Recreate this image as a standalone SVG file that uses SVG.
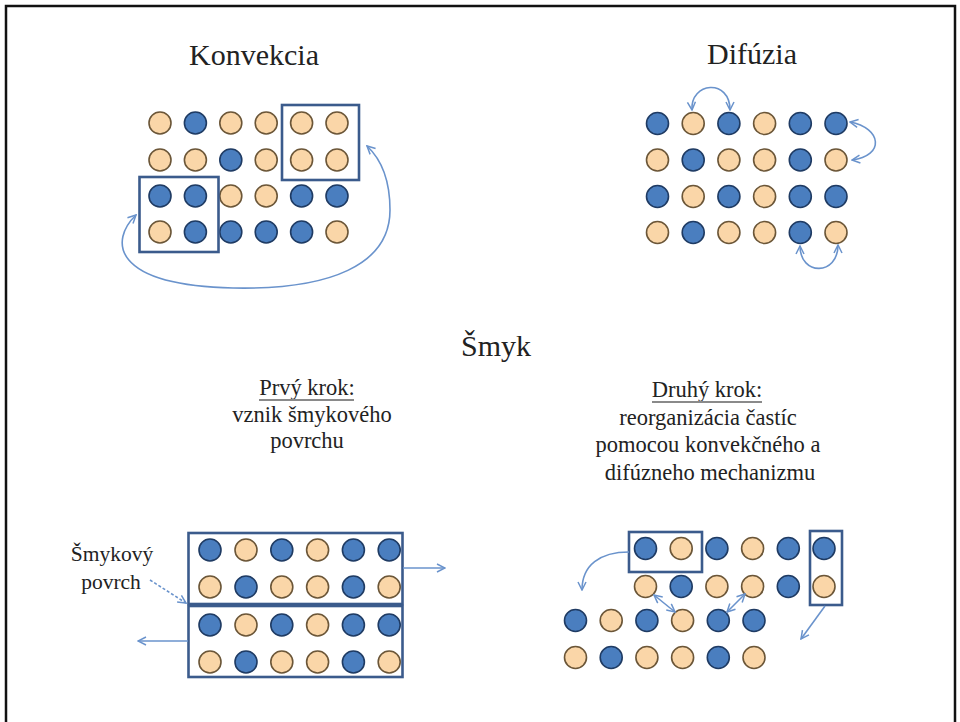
<svg xmlns="http://www.w3.org/2000/svg" width="960" height="722" viewBox="0 0 960 722">
<defs>
<style>
.b{fill:#4a7ebf;stroke:#1f3b63;stroke-width:1.6}
.p{fill:#fad6a8;stroke:#6b5638;stroke-width:1.6}
.box{fill:none;stroke:#3b5b8c;stroke-width:2.6}
.arr{fill:none;stroke:#6a93cc;stroke-width:1.6}
.t{font-family:"Liberation Serif","Times New Roman",serif;fill:#222;text-anchor:middle}
.h{font-size:30px}
.s{font-size:22.5px}
.ul{stroke:#8a8a8a;stroke-width:2}
</style>
<marker id="ah" viewBox="0 0 10 10" refX="9" refY="5" markerWidth="10" markerHeight="10" markerUnits="userSpaceOnUse" orient="auto-start-reverse">
<path d="M1,1 L9,5 L1,9" fill="none" stroke="#6a93cc" stroke-width="1.5"/>
</marker>
</defs>
<rect x="0" y="0" width="960" height="722" fill="#fff"/>
<path d="M6,722 V6 H955 V722" fill="none" stroke="#111" stroke-width="2.5"/>

<g id="titles">
<text class="t h" x="254" y="65">Konvekcia</text>
<text class="t h" x="752" y="64">Difúzia</text>
<text class="t h" x="496" y="356">Šmyk</text>
</g>

<g id="step1-label">
<text class="t s" x="307" y="395">Prvý krok:</text>
<line class="ul" x1="259" y1="400" x2="354" y2="400"/>
<text class="t s" x="312" y="422">vznik šmykového</text>
<text class="t s" x="307" y="448">povrchu</text>
</g>

<g id="step2-label">
<text class="t s" x="707" y="397">Druhý krok:</text>
<line class="ul" x1="652" y1="402" x2="762" y2="402"/>
<text class="t s" x="708" y="425">reorganizácia častíc</text>
<text class="t s" x="708" y="452">pomocou konvekčného a</text>
<text class="t s" x="710" y="480">difúzneho mechanizmu</text>
</g>

<g id="shear-label">
<text class="t" style="font-size:21.5px" x="112" y="561">Šmykový</text>
<text class="t" style="font-size:21.5px" x="111" y="589">povrch</text>
</g>

<g id="konvekcia-grid">
<circle class="p" cx="160" cy="123" r="11"/><circle class="b" cx="195.4" cy="123" r="11"/><circle class="p" cx="230.8" cy="123" r="11"/><circle class="p" cx="266.2" cy="123" r="11"/><circle class="p" cx="301.6" cy="123" r="11"/><circle class="p" cx="337" cy="123" r="11"/>
<circle class="p" cx="160" cy="160" r="11"/><circle class="p" cx="195.4" cy="160" r="11"/><circle class="b" cx="230.8" cy="160" r="11"/><circle class="p" cx="266.2" cy="160" r="11"/><circle class="p" cx="301.6" cy="160" r="11"/><circle class="p" cx="337" cy="160" r="11"/>
<circle class="b" cx="160" cy="196" r="11"/><circle class="b" cx="195.4" cy="196" r="11"/><circle class="p" cx="230.8" cy="196" r="11"/><circle class="p" cx="266.2" cy="196" r="11"/><circle class="b" cx="301.6" cy="196" r="11"/><circle class="b" cx="337" cy="196" r="11"/>
<circle class="p" cx="160" cy="232" r="11"/><circle class="b" cx="195.4" cy="232" r="11"/><circle class="b" cx="230.8" cy="232" r="11"/><circle class="b" cx="266.2" cy="232" r="11"/><circle class="b" cx="301.6" cy="232" r="11"/><circle class="p" cx="337" cy="232" r="11"/>
<rect class="box" x="282" y="105" width="77" height="75"/>
<rect class="box" x="139.5" y="177" width="79" height="75"/>
</g>

<g id="difuzia-grid">
<circle class="b" cx="657.5" cy="123.5" r="11"/><circle class="p" cx="693.2" cy="123.5" r="11"/><circle class="b" cx="728.9" cy="123.5" r="11"/><circle class="p" cx="764.6" cy="123.5" r="11"/><circle class="b" cx="800.3" cy="123.5" r="11"/><circle class="b" cx="836" cy="123.5" r="11"/>
<circle class="p" cx="657.5" cy="160" r="11"/><circle class="b" cx="693.2" cy="160" r="11"/><circle class="p" cx="728.9" cy="160" r="11"/><circle class="p" cx="764.6" cy="160" r="11"/><circle class="b" cx="800.3" cy="160" r="11"/><circle class="p" cx="836" cy="160" r="11"/>
<circle class="b" cx="657.5" cy="196.5" r="11"/><circle class="p" cx="693.2" cy="196.5" r="11"/><circle class="b" cx="728.9" cy="196.5" r="11"/><circle class="p" cx="764.6" cy="196.5" r="11"/><circle class="b" cx="800.3" cy="196.5" r="11"/><circle class="b" cx="836" cy="196.5" r="11"/>
<circle class="p" cx="657.5" cy="232.5" r="11"/><circle class="b" cx="693.2" cy="232.5" r="11"/><circle class="p" cx="728.9" cy="232.5" r="11"/><circle class="p" cx="764.6" cy="232.5" r="11"/><circle class="b" cx="800.3" cy="232.5" r="11"/><circle class="p" cx="836" cy="232.5" r="11"/>
</g>

<g id="shear-step1-grid">
<circle class="b" cx="210" cy="550" r="11"/><circle class="p" cx="246" cy="550" r="11"/><circle class="b" cx="281.8" cy="550" r="11"/><circle class="p" cx="317.6" cy="550" r="11"/><circle class="b" cx="353.4" cy="550" r="11"/><circle class="b" cx="389.2" cy="550" r="11"/>
<circle class="p" cx="210" cy="587" r="11"/><circle class="b" cx="246" cy="587" r="11"/><circle class="p" cx="281.8" cy="587" r="11"/><circle class="p" cx="317.6" cy="587" r="11"/><circle class="b" cx="353.4" cy="587" r="11"/><circle class="p" cx="389.2" cy="587" r="11"/>
<circle class="b" cx="210" cy="625" r="11"/><circle class="p" cx="246" cy="625" r="11"/><circle class="b" cx="281.8" cy="625" r="11"/><circle class="p" cx="317.6" cy="625" r="11"/><circle class="b" cx="353.4" cy="625" r="11"/><circle class="b" cx="389.2" cy="625" r="11"/>
<circle class="p" cx="210" cy="662" r="11"/><circle class="b" cx="246" cy="662" r="11"/><circle class="p" cx="281.8" cy="662" r="11"/><circle class="p" cx="317.6" cy="662" r="11"/><circle class="b" cx="353.4" cy="662" r="11"/><circle class="p" cx="389.2" cy="662" r="11"/>
<rect class="box" x="188.5" y="533" width="214" height="71"/>
<rect class="box" x="188.5" y="606" width="214" height="71"/>
</g>

<g id="shear-step2-grid">
<circle class="b" cx="645.5" cy="548.5" r="11"/><circle class="p" cx="681.2" cy="548.5" r="11"/><circle class="b" cx="716.9" cy="548.5" r="11"/><circle class="p" cx="752.6" cy="548.5" r="11"/><circle class="b" cx="788.3" cy="548.5" r="11"/><circle class="b" cx="824" cy="548.5" r="11"/>
<circle class="p" cx="645.5" cy="586.5" r="11"/><circle class="b" cx="681.2" cy="586.5" r="11"/><circle class="p" cx="716.9" cy="586.5" r="11"/><circle class="p" cx="752.6" cy="586.5" r="11"/><circle class="b" cx="788.3" cy="586.5" r="11"/><circle class="p" cx="824" cy="586.5" r="11"/>
<circle class="b" cx="575.5" cy="620.5" r="11"/><circle class="p" cx="611.2" cy="620.5" r="11"/><circle class="b" cx="646.9" cy="620.5" r="11"/><circle class="p" cx="682.6" cy="620.5" r="11"/><circle class="b" cx="718.3" cy="620.5" r="11"/><circle class="b" cx="754" cy="620.5" r="11"/>
<circle class="p" cx="575.5" cy="657.5" r="11"/><circle class="b" cx="611.2" cy="657.5" r="11"/><circle class="p" cx="646.9" cy="657.5" r="11"/><circle class="p" cx="682.6" cy="657.5" r="11"/><circle class="b" cx="718.3" cy="657.5" r="11"/><circle class="p" cx="754" cy="657.5" r="11"/>
<rect class="box" x="629" y="532" width="73" height="40"/>
<rect class="box" x="810" y="531" width="32" height="74"/>
</g>

<g id="connectors">
<path class="arr" d="M136,215 C110,240 110,285 233,288 C330,290 390,265 390,210 C390,182 382,160 367,146" marker-start="url(#ah)" marker-end="url(#ah)"/>
<path class="arr" d="M692,110 C690,82 730,78 730,110" marker-start="url(#ah)" marker-end="url(#ah)"/>
<path class="arr" d="M850,122 C882,128 885,156 852,160" marker-start="url(#ah)" marker-end="url(#ah)"/>
<path class="arr" d="M800,246 C800,276 838,276 838,245" marker-start="url(#ah)" marker-end="url(#ah)"/>
<path class="arr" d="M403,568 H445" marker-end="url(#ah)"/>
<path class="arr" d="M188,641 H138" marker-end="url(#ah)"/>
<path class="arr" d="M150,580 L186,603" stroke-dasharray="3,2" marker-end="url(#ah)"/>
<path class="arr" d="M629,552 C600,552 582,565 582,590" marker-end="url(#ah)"/>
<path class="arr" d="M825,606 L801,639" marker-end="url(#ah)"/>
<path class="arr" d="M654,595 L675,612" marker-start="url(#ah)" marker-end="url(#ah)"/>
<path class="arr" d="M745,594 L727,612" marker-start="url(#ah)" marker-end="url(#ah)"/>
</g>
</svg>
